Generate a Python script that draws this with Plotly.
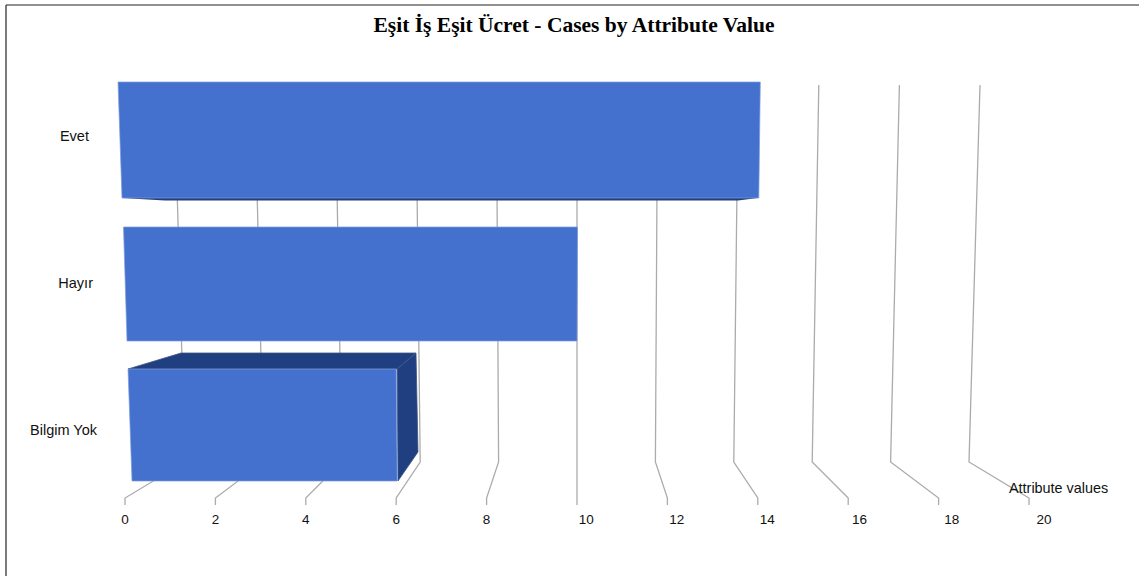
import plotly.graph_objects as go

# ---- data ----
categories = ["Evet", "Hayır", "Bilgim Yok"]
values = [14, 10, 6]
tick_values = [0, 2, 4, 6, 8, 10, 12, 14, 16, 18, 20]
title_text = "Eşit İş Eşit Ücret - Cases by Attribute Value"
axis_caption = "Attribute values"

# ---- canvas and scale calibration (pixels) ----
W, H = 1139, 576
PLOT_L, PLOT_B = 98, 505
X0_PX, UNIT_PX = 125.0, 45.2       # front axis: value 0 position, pixels per unit
Y0_PX, CAT_PX = 136.0, 147.0       # category 0 position, pixels per category


def xd(px):
    return (px - X0_PX) / UNIT_PX


def yd(px):
    return (px - Y0_PX) / CAT_PX


BLUE = "#4371CD"
DARK = "#1F3F80"
GRID = "#ABABAB"
TEXT = "#111111"

# perspective: scale of the back wall around value 10, at its top and bottom
PIVOT = 10
BACK_TOP_SCALE = 40.3 / UNIT_PX
BACK_BOT_SCALE = 39.2 / UNIT_PX
WALL_TOP, WALL_BOT, ELBOW, TICK_END = 85, 462, 498, 505

# front faces: pixel inset of each bar's edges
face_top = [82, 227, 369]
face_bot = [198, 341, 481]
left_top = [118, 123.5, 128]     # px
left_bot = [122, 127, 132]       # px
right_top_off = [2.5, 0.5, 0.0]  # px beyond the value position
right_bot_off = [1.0, 0.0, 1.0]

# label layout: non-breaking padding that left-aligns the tick labels
x_label_pad = {10: 5, 12: 5, 14: 5, 16: 6, 18: 7, 20: 8}
y_label_pad = [2, 1, 0]

fig = go.Figure()


def poly(xs, ys, fill, line=None, lw=0):
    fig.add_trace(go.Scatter(
        x=list(xs) + [xs[0]], y=list(ys) + [ys[0]], mode="lines", fill="toself",
        fillcolor=fill, line=dict(color=line or fill, width=lw),
        hoverinfo="skip", showlegend=False))


# gridlines: wall line, floor line and front tick for every axis value
for v in tick_values:
    fig.add_trace(go.Scatter(
        x=[v, v,
           PIVOT + (v - PIVOT) * BACK_BOT_SCALE,
           PIVOT + (v - PIVOT) * BACK_TOP_SCALE],
        y=[yd(TICK_END), yd(ELBOW), yd(WALL_BOT), yd(WALL_TOP)],
        mode="lines", line=dict(color=GRID, width=1.3),
        hoverinfo="skip", showlegend=False))

# main bars
base = [xd(max(a, b)) for a, b in zip(left_top, left_bot)]
fig.add_trace(go.Bar(
    y=list(range(len(categories))),
    x=[v - b for v, b in zip(values, base)],
    base=base,
    orientation="h",
    width=[(b - t) / CAT_PX for t, b in zip(face_top, face_bot)],
    offset=[yd(t) - i for i, t in enumerate(face_top)],
    marker=dict(color=BLUE, line=dict(width=0)),
    hoverinfo="skip", showlegend=False))

# depth faces of the smallest bar, and the dark lip under the largest
v3 = values[2]
poly([xd(128), v3 + 0.02, xd(416), xd(181)],
     [yd(369), yd(369), yd(353), yd(353)], DARK, "#3F5587", 0.8)
poly([v3 + 0.02, xd(416), xd(418), v3 + 0.04],
     [yd(369), yd(353), yd(452), yd(481)], DARK, "#3F5587", 0.8)
v1 = values[0]
poly([xd(122), xd(165), xd(738), v1],
     [yd(198), yd(200.5), yd(200.5), yd(198)], DARK)

# front faces with their slightly slanted edges
for i, v in enumerate(values):
    poly([xd(left_top[i]), v + right_top_off[i] / UNIT_PX,
          v + right_bot_off[i] / UNIT_PX, xd(left_bot[i])],
         [yd(face_top[i]), yd(face_top[i]), yd(face_bot[i]), yd(face_bot[i])],
         BLUE, "#7F9CDB", 0.7)

fig.update_layout(
    width=W, height=H,
    margin=dict(l=PLOT_L, r=0, t=0, b=H - PLOT_B, pad=0, autoexpand=False),
    paper_bgcolor="white", plot_bgcolor="white",
    showlegend=False, bargap=0,
    font=dict(family="Liberation Sans", size=13, color=TEXT),
    title=dict(text=f"<b>{title_text}</b>", xref="container", yref="container",
               x=574 / W, xanchor="center", y=1 - 24 / H, yanchor="middle",
               font=dict(family="Liberation Serif", size=21.5, color="#000000")),
    xaxis=dict(range=[xd(PLOT_L), xd(W)], showgrid=False, zeroline=False,
               showline=False, ticks="", tickmode="array", tickvals=tick_values,
               ticktext=["\u00a0" * x_label_pad.get(v, 0) + str(v) for v in tick_values],
               ticklabelstandoff=4, tickfont=dict(size=13.5)),
    yaxis=dict(range=[yd(PLOT_B), yd(0)], showgrid=False, zeroline=False,
               showline=False, ticks="", tickmode="array",
               tickvals=list(range(len(categories))),
               ticktext=[c + "\u00a0" * n for c, n in zip(categories, y_label_pad)],
               tickfont=dict(size=14.5)),
    annotations=[dict(text=axis_caption, x=xd(1058.5), y=yd(488), xref="x", yref="y",
                      showarrow=False, xanchor="center", yanchor="middle",
                      font=dict(size=14.4, color=TEXT))],
    shapes=[
        dict(type="line", xref="paper", yref="paper", layer="above",
             x0=(6 - PLOT_L) / (W - PLOT_L), x1=(6 - PLOT_L) / (W - PLOT_L),
             y0=(PLOT_B - 5) / PLOT_B, y1=(PLOT_B - H) / PLOT_B,
             line=dict(color="#222222", width=1.2)),
        dict(type="line", xref="paper", yref="paper", layer="above",
             x0=(6 - PLOT_L) / (W - PLOT_L), x1=1,
             y0=(PLOT_B - 5) / PLOT_B, y1=(PLOT_B - 5) / PLOT_B,
             line=dict(color="#222222", width=1.2)),
    ],
)

fig.write_html("out.html", config=dict(displayModeBar=False),
               post_script="document.body.style.margin='0';document.body.style.overflow='hidden';")
